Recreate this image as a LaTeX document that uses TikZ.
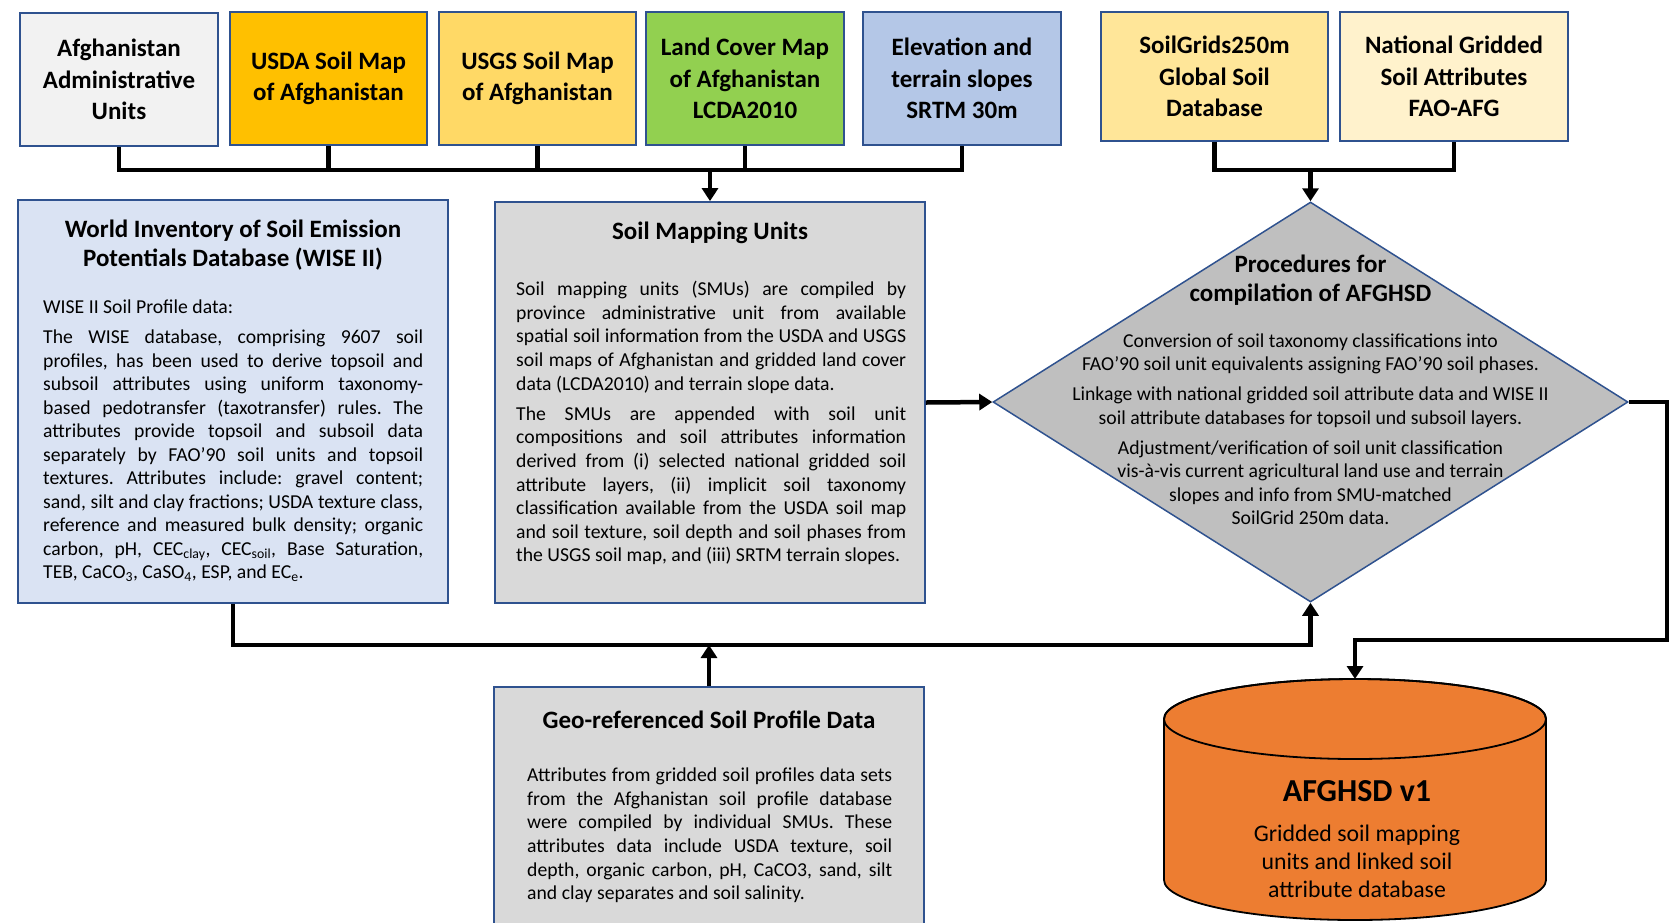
\documentclass[tikz,border=0pt]{standalone}
\usepackage{fontspec}
\setmainfont{Carlito}
\usetikzlibrary{shapes.geometric,arrows.meta}
\frenchspacing
\definecolor{bord}{HTML}{2F528F}
\definecolor{cA}{HTML}{F2F2F2}
\definecolor{cB}{HTML}{FFC000}
\definecolor{cC}{HTML}{FFD966}
\definecolor{cD}{HTML}{92D050}
\definecolor{cE}{HTML}{B4C7E7}
\definecolor{cF}{HTML}{FFE699}
\definecolor{cG}{HTML}{FFF2CC}
\definecolor{cWise}{HTML}{DAE3F3}
\definecolor{cGray}{HTML}{D9D9D9}
\definecolor{cDia}{HTML}{BFBFBF}
\definecolor{cCyl}{HTML}{ED7D31}
\newcommand{\fs}[2]{\fontsize{#1}{#2}\selectfont}
\newcommand{\jl}[1]{\makebox[\linewidth][s]{#1}\\}
\tikzset{
 topbox/.style={draw=bord, line width=1.8pt, inner sep=0pt, align=center, font=\fs{25}{31.5}\bfseries},
 bigbox/.style={draw=bord, line width=1.8pt, inner sep=0pt},
 ttl/.style={inner sep=0pt, align=center, font=\fs{25}{29.5}\bfseries},
 bodytxt/.style={inner sep=0pt, anchor=north west},
 conn/.style={line width=4.5pt},
 arr/.style={line width=4.5pt, -{Triangle[width=16pt,length=13pt]}},
}
\begin{document}
\begin{tikzpicture}[x=1pt,y=-1pt]
\useasboundingbox (0,0) rectangle (1671,922);
\clip (0,0) rectangle (1671,922);
% top boxes
\node[topbox, fill=cA, minimum width=198pt, minimum height=133pt] (b1) at (119,79.5) {Afghanistan\\Administrative\\Units};
\node[topbox, fill=cB, minimum width=197pt, minimum height=133pt] (b2) at (328.5,78.5) {USDA Soil Map\\of Afghanistan};
\node[topbox, fill=cC, minimum width=197pt, minimum height=133pt] (b3) at (537.5,78.5) {USGS Soil Map\\of Afghanistan};
\node[topbox, fill=cD, minimum width=198pt, minimum height=133pt] (b4) at (745,78.5) {Land Cover Map\\of Afghanistan\\LCDA2010};
\node[topbox, fill=cE, minimum width=198pt, minimum height=133pt] (b5) at (962,78.5) {Elevation and\\terrain slopes\\SRTM 30m};
\node[topbox, fill=cF, minimum width=227pt, minimum height=129pt] (b6) at (1214.5,76.5) {SoilGrids250m\\Global Soil\\Database};
\node[topbox, fill=cG, minimum width=228pt, minimum height=129pt] (b7) at (1454,76.5) {National Gridded\\Soil Attributes\\FAO-AFG};

% big boxes
\node[bigbox, fill=cWise, minimum width=430pt, minimum height=403pt] (wise) at (233,401.5) {};
\node[bigbox, fill=cGray, minimum width=430pt, minimum height=401pt] (smu) at (710,402.5) {};
\node[bigbox, fill=cGray, minimum width=430pt, minimum height=240pt] (geo) at (709,807) {};
\node[diamond, draw=bord, line width=1.5pt, fill=cDia, inner sep=0pt, minimum width=635pt, minimum height=400pt] (proc) at (1310.5,402) {};

% cylinder
\path[fill=cCyl, draw=black, line width=1.8pt] (1164,719) -- (1164,880)
  .. controls (1164,902.1) and (1249.5,920) .. (1355,920)
  .. controls (1460.5,920) and (1546,902.1) .. (1546,880) -- (1546,719)
  .. controls (1546,696.9) and (1460.5,679) .. (1355,679)
  .. controls (1249.5,679) and (1164,696.9) .. (1164,719) -- cycle;
\draw[black, line width=1.8pt] (1355,719) ellipse [x radius=191, y radius=40];
\coordinate (cyltop) at (1355,679);

% texts
\node[ttl] (wiseT) at (233,245) {World Inventory of Soil Emission\\Potentials Database (WISE II)};
\node[bodytxt] (wiseB) at (43,297) {\parbox[t]{380pt}{\fs{19.7}{23.5}\setlength{\parskip}{6.5pt}\strut WISE II Soil Profile data:\par
\jl{The WISE database, comprising 9607 soil}
\jl{profiles, has been used to derive topsoil and}
\jl{subsoil attributes using uniform taxonomy-}
\jl{based pedotransfer (taxotransfer) rules. The}
\jl{attributes provide topsoil and subsoil data}
\jl{separately by FAO’90 soil units and topsoil}
\jl{textures. Attributes include: gravel content;}
\jl{sand, silt and clay fractions; USDA texture class,}
\jl{reference and measured bulk density; organic}
\jl{carbon, pH, CEC\textsubscript{clay}, CEC\textsubscript{soil}, Base Saturation,}
TEB, CaCO\textsubscript{3}, CaSO\textsubscript{4}, ESP, and EC\textsubscript{e}.}};

\node[ttl] (smuT) at (710,233) {Soil Mapping Units};
\node[bodytxt] (smuB) at (516,279) {\parbox[t]{390pt}{\fs{19.7}{23.6}\setlength{\parskip}{6.5pt}\strut
\jl{Soil mapping units (SMUs) are compiled by}
\jl{province administrative unit from available}
\jl{spatial soil information from the USDA and USGS}
\jl{soil maps of Afghanistan and gridded land cover}
data (LCDA2010) and terrain slope data.\par
\jl{The SMUs are appended with soil unit}
\jl{compositions and soil attributes information}
\jl{derived from (i) selected national gridded soil}
\jl{attribute layers, (ii) implicit soil taxonomy}
\jl{classification available from the USDA soil map}
\jl{and soil texture, soil depth and soil phases from}
the USGS soil map, and (iii) SRTM terrain slopes.}};

\node[ttl] (geoT) at (709,720) {Geo-referenced Soil Profile Data};
\node[bodytxt] (geoB) at (527,765) {\parbox[t]{365pt}{\fs{19.7}{23.6}\strut
\jl{Attributes from gridded soil profiles data sets}
\jl{from the Afghanistan soil profile database}
\jl{were compiled by individual SMUs. These}
\jl{attributes data include USDA texture, soil}
\jl{depth, organic carbon, pH, CaCO3, sand, silt}
and clay separates and soil salinity.}};

\node[ttl] (procT) at (1310.5,280) {Procedures for\\compilation of AFGHSD};
\node[inner sep=0pt, align=center, font=\fs{19.7}{23.5}] (procB) at (1310.5,429) {Conversion of soil taxonomy classifications into\\FAO’90 soil unit equivalents assigning FAO’90 soil phases.\\[6.5pt]Linkage with national gridded soil attribute data and WISE II\\soil attribute databases for topsoil und subsoil layers.\\[6.5pt]Adjustment/verification of soil unit classification\\vis-à-vis current agricultural land use and terrain\\slopes and info from SMU-matched\\SoilGrid 250m data.};

\node[inner sep=0pt, font=\fs{32}{36}\bfseries] (cylT) at (1357,791) {AFGHSD v1};
\node[inner sep=0pt, align=center, font=\fs{23.8}{28}] (cylB) at (1357,861) {Gridded soil mapping\\units and linked soil\\attribute database};

% connectors
\coordinate (bus) at (0,170);
\coordinate (bus3) at (0,645);
\coordinate (rbend) at (1667,640);
\draw[conn] (b1.south) -- (b1.south |- bus) -- (b5.south |- bus) -- (b5.south);
\draw[conn] (b2.south) -- (b2.south |- bus);
\draw[conn] (b3.south) -- (b3.south |- bus);
\draw[conn] (b4.south) -- (b4.south |- bus);
\draw[arr] (smu.north |- bus) -- (smu.north);
\draw[conn] (b6.south) -- (b6.south |- bus) -- (b7.south |- bus) -- (b7.south);
\draw[arr] (proc.north |- bus) -- (proc.north);
\draw[arr] (smu.east) -- (proc.west);
\draw[arr] (proc.east) -| (rbend) -| (cyltop);
\draw[arr] (wise.south) -- (wise.south |- bus3) -| (proc.south);
\draw[arr] (geo.north) -- (geo.north |- bus3);
\end{tikzpicture}
\end{document}
